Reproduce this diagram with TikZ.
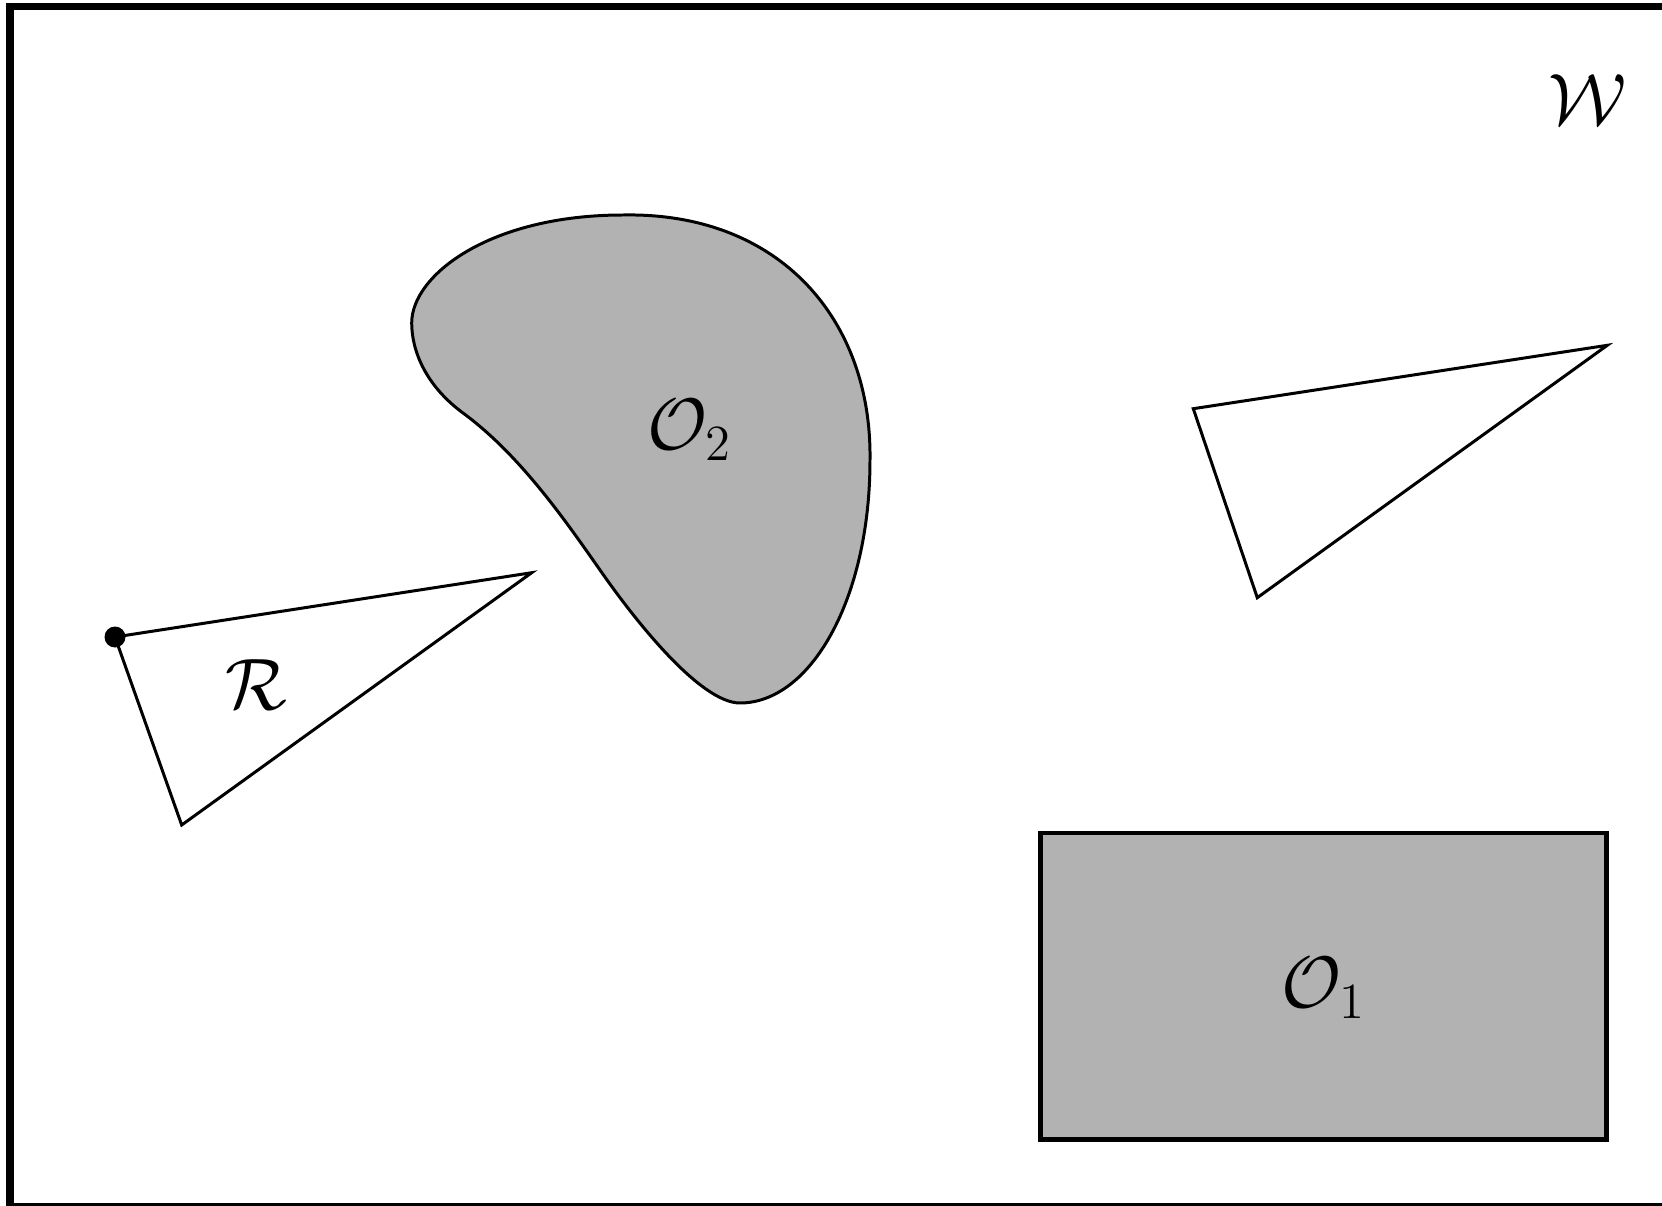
\documentclass[tikz,border=0pt]{standalone}
\begin{document}
\begin{tikzpicture}[x=0.01cm,y=-0.01cm,
  framebox/.style={line width=2.1pt},
  robot/.style={draw=black,line width=0.85pt,line join=miter},
  obstacle/.style={draw=black,fill=black!30},
  lbl/.style={font=\fontsize{20}{24}\selectfont,inner sep=0pt}]
\useasboundingbox (0,0) rectangle (1662,1206);
\clip (0,0) rectangle (1662,1206);
% workspace frame (right side cut off)
\draw[framebox] (10,6.5) rectangle (1680,1207);
\node[lbl] (W) at (1588,100) {$\mathcal{W}$};
% obstacle O1
\draw[obstacle,line width=1.4pt] (1040.8,833) rectangle (1606.7,1139.7);
\node[lbl] (O1) at (1323.7,988) {$\mathcal{O}_1$};
% obstacle O2
\draw[obstacle,line width=0.85pt]
  (411.7,323) .. controls (411.7,275) and (490,215) .. (623,215)
  .. controls (780,212) and (872,320) .. (870,460)
  .. controls (870,600) and (810,703) .. (740,703)
  .. controls (700,703) and (634,619) .. (600,570)
  .. controls (565,520) and (520,455) .. (463,413)
  .. controls (425,385) and (411.7,350) .. (411.7,323) -- cycle;
\node[lbl] (O2) at (690,430) {$\mathcal{O}_2$};
% robot at start
\coordinate (A) at (115,637);
\coordinate (B) at (531.7,572.7);
\coordinate (C) at (181.7,825);
\draw[robot] (A) -- (B) -- (C) -- cycle;
\fill (A) circle[radius=10.5];
\node[lbl] (R) at (256.7,685) {$\mathcal{R}$};
% robot at goal
\coordinate (A2) at (1193.3,408.7);
\coordinate (B2) at (1607.3,345.3);
\coordinate (C2) at (1257.3,597.7);
\draw[robot] (A2) -- (B2) -- (C2) -- cycle;
\end{tikzpicture}
\end{document}
